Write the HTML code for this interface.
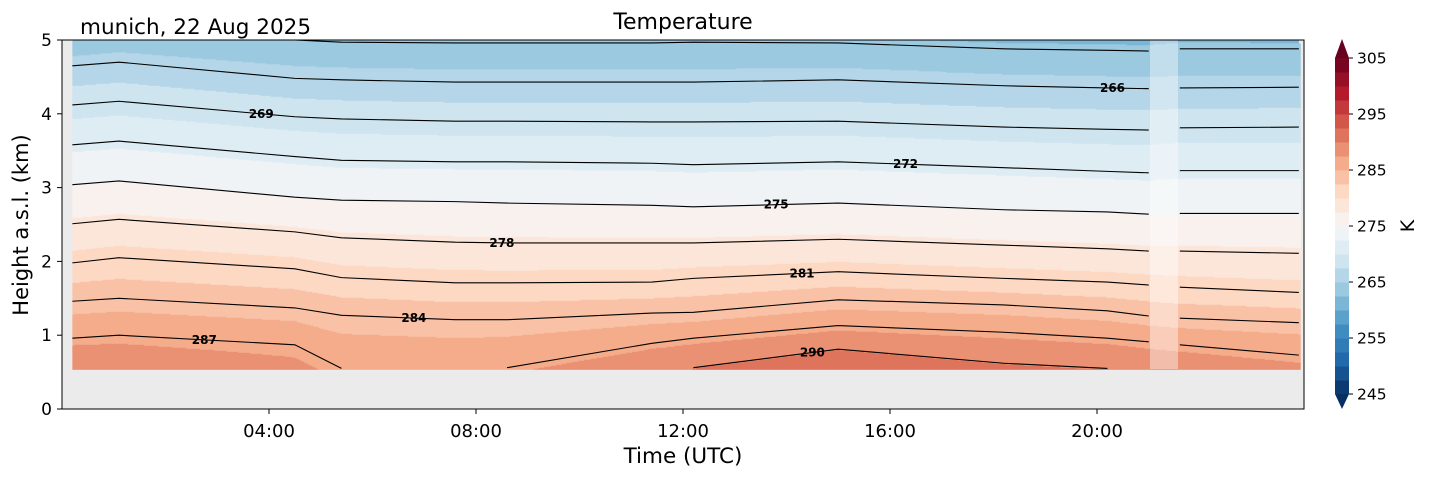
<!DOCTYPE html>
<html><head><meta charset="utf-8"><style>
body{margin:0;background:#fff;width:1429px;height:478px;overflow:hidden;font-family:"Liberation Sans","DejaVu Sans",sans-serif}
svg{display:block}
text{font-family:"DejaVu Sans","Liberation Sans",sans-serif}
</style></head><body>
<svg id="chart" width="1429" height="478" viewBox="0 0 1429 478">
<rect x="0" y="0" width="1429" height="478" fill="#fff"/>
<rect x="62" y="40" width="1242" height="369" fill="#ebebeb"/>
<g id="field"></g>
<rect x="1150" y="40" width="28" height="329" fill="#ffffff" opacity="0.4"/>
<g id="contours"></g>
<g id="clabels"></g>
<rect x="62" y="40" width="1242" height="369" fill="none" stroke="#000" stroke-width="1"/>
<g id="axes"></g>
<text x="683" y="29" font-size="22" text-anchor="middle">Temperature</text>
<text x="80" y="34" font-size="21.5">munich, 22 Aug 2025</text>
<text x="683" y="463" font-size="21.5" text-anchor="middle">Time (UTC)</text>
<text x="0" y="0" font-size="21" text-anchor="middle" transform="translate(28,225) rotate(-90)">Height a.s.l. (km)</text>
<g id="cbar"></g>
<text x="0" y="0" font-size="19" text-anchor="middle" transform="translate(1414,226) rotate(-90)">K</text>
</svg>
<script>
// ---- data ----
const levels = [263,266,269,272,275,278,281,284,287,290];
const knotHours = [0.2,1.1,4.5,5.4,7.6,8.6,11.4,12.2,15.0,18.2,20.2,21.0,21.6,23.9];
// contour heights (km) per knot, per level (null = level absent)
const contourKm = [
 [5.05,4.65,4.12,3.58,3.04,2.51,1.98,1.46,0.96,null],
 [5.12,4.70,4.17,3.63,3.09,2.57,2.05,1.50,1.00,null],
 [5.00,4.48,3.96,3.42,2.87,2.40,1.90,1.37,0.87,null],
 [4.97,4.46,3.93,3.37,2.83,2.32,1.78,1.27,0.55,null],
 [4.96,4.43,3.90,3.35,2.81,2.26,1.71,1.21,null,null],
 [4.96,4.43,3.90,3.35,2.79,2.25,1.71,1.21,0.56,null],
 [4.96,4.43,3.89,3.33,2.76,2.25,1.72,1.30,0.89,null],
 [4.97,4.43,3.89,3.31,2.74,2.25,1.77,1.31,0.96,0.56],
 [4.96,4.46,3.90,3.35,2.79,2.30,1.86,1.48,1.13,0.81],
 [4.88,4.38,3.82,3.27,2.70,2.22,1.77,1.41,1.04,0.62],
 [4.86,4.35,3.79,3.22,2.67,2.17,1.72,1.33,0.96,0.54],
 [4.85,4.34,3.78,3.20,2.64,2.14,1.68,1.26,0.91,null],
 [4.88,4.35,3.81,3.23,2.65,2.14,1.65,1.23,0.87,null],
 [4.88,4.36,3.82,3.23,2.65,2.11,1.58,1.17,0.73,null]
];
const bottomTemp = [289.4,289.2,288.0,287.0,286.8,287.0,289.7,290.0,291.8,290.3,290.0,289.2,289.0,288.0];
const xTickLabels = ["04:00","08:00","12:00","16:00","20:00"];
const xTickHours = [4,8,12,16,20];
const yTicks = [0,1,2,3,4,5];
const cbarTicks = [245,255,265,275,285,295,305];
const labelData = [
 {lev:269,h:3.85},{lev:287,h:2.75},{lev:284,h:6.8},{lev:278,h:8.5},{lev:275,h:13.8},
 {lev:281,h:14.3},{lev:290,h:14.5},{lev:272,h:16.3},{lev:266,h:20.3}
];
const dataStartH=0.2, dataEndH=23.9, bottomKm=0.55, gapStart=21.0, gapEnd=21.5;

// ---- axes functions ----
const X0=62,X1=1304,Y0=409,Y1=40;
const xs=h=>X0+(X1-X0)*h/24;
const ys=z=>Y0-(Y0-Y1)*z/5;
const NS="http://www.w3.org/2000/svg";
function mk(tag,attrs,parent){const e=document.createElementNS(NS,tag);for(const k in attrs)e.setAttribute(k,attrs[k]);parent.appendChild(e);return e;}

const rdbu=["#053061","#2166ac","#4393c3","#92c5de","#d1e5f0","#f7f7f7","#fddbc7","#f4a582","#d6604d","#b2182b","#67001f"];
function hex(c){return [1,3,5].map(i=>parseInt(c.substr(i,2),16));}
function cmap(f){f=Math.max(0,Math.min(1,f));const p=f*10,i=Math.min(9,Math.floor(p)),t=p-i;const a=hex(rdbu[i]),b=hex(rdbu[i+1]);return "rgb("+a.map((v,k)=>Math.round(v+(b[k]-v)*t)).join(",")+")";}
function bandColor(T){let k=Math.floor((T-245)/2.5);k=Math.max(0,Math.min(23,k));return cmap((k+0.5)/24);}

function profileAt(h){
  let i=0;while(i<knotHours.length-2&&h>knotHours[i+1])i++;
  const t=Math.max(0,Math.min(1,(h-knotHours[i])/(knotHours[i+1]-knotHours[i])));
  const pts=[[bottomKm,bottomTemp[i]+(bottomTemp[i+1]-bottomTemp[i])*t]];
  for(let l=levels.length-1;l>=0;l--){const a=contourKm[i][l],b=contourKm[i+1][l];
    if(a!=null&&b!=null){const z=a+(b-a)*t;if(z>pts[pts.length-1][0]+0.01)pts.push([z,levels[l]]);}}
  return pts;
}
function tempAt(pts,z){
  for(let k=0;k<pts.length-1;k++){if(z<=pts[k+1][0]){const f=(z-pts[k][0])/(pts[k+1][0]-pts[k][0]);return pts[k][1]+(pts[k+1][1]-pts[k][1])*f;}}
  const n=pts.length;const g=(pts[n-1][1]-pts[n-2][1])/(pts[n-1][0]-pts[n-2][0]);return pts[n-1][1]+g*(z-pts[n-1][0]);
}

// ---- field ----
const field=document.getElementById('field');
const xa=xs(dataStartH),xb=xs(dataEndH),step=2;
for(let x=xa;x<xb;x+=step){
  const h=(x+step/2-X0)/(X1-X0)*24;const pts=profileAt(h);
  let runStart=ys(bottomKm),runCol=null;
  for(let y=ys(bottomKm);y>Y1-0.5;y-=1){
    const z=(Y0-y)/(Y0-Y1)*5;const c=bandColor(tempAt(pts,z));
    if(c!==runCol){if(runCol){const r=mk('rect',{x:x,y:y+1,width:step+0.4,height:runStart-y-1+0.4,fill:runCol},field);}runCol=c;runStart=y+1;}
  }
  const r=mk('rect',{x:x,y:Y1,width:Math.min(step+0.4,xb-x),height:runStart-Y1,fill:runCol},field);
  
  
}

// ---- contours ----
const cg=document.getElementById('contours');
levels.forEach((lev,l)=>{
  let seg=[];const segs=[];
  knotHours.forEach((h,i)=>{const z=contourKm[i][l];
    if(z==null||z>5){if(seg.length)segs.push(seg);seg=[];return;}
    if(h>gapEnd&&knotHours[i-1]<=gapStart){if(seg.length)segs.push(seg);seg=[];}
    seg.push([xs(h),ys(Math.max(z,bottomKm))]);});
  if(seg.length)segs.push(seg);
  segs.forEach(s=>{if(s.length<2)return;
    const p=mk('polyline',{points:s.map(q=>q.join(',')).join(' '),fill:'none',stroke:'#000','stroke-width':1.1},cg);
    
    });
});
const lg=document.getElementById('clabels');
labelData.forEach(d=>{
  const l=levels.indexOf(d.lev);
  let i=0;while(i<knotHours.length-2&&d.h>knotHours[i+1])i++;
  const a=contourKm[i][l]??bottomKm,b=contourKm[i+1][l]??bottomKm,t=(d.h-knotHours[i])/(knotHours[i+1]-knotHours[i]);
  const z=a+(b-a)*t;
  const tx=mk('text',{x:xs(d.h),y:ys(z)+4,'font-size':12,'font-weight':'bold','text-anchor':'middle'},lg);
  tx.textContent=d.lev;
  
  
});

// ---- axes ----
const ax=document.getElementById('axes');
xTickHours.forEach((h,i)=>{
  const ln=mk('line',{x1:xs(h),x2:xs(h),y1:Y0,y2:Y0+5,stroke:'#000'},ax);
  
  
  const t=mk('text',{x:xs(h),y:Y0+28,'font-size':18,'text-anchor':'middle'},ax);t.textContent=xTickLabels[i];
  
  
});
yTicks.forEach(v=>{
  const ln=mk('line',{x1:X0-5,x2:X0,y1:ys(v),y2:ys(v),stroke:'#000'},ax);
  
  
  const t=mk('text',{x:X0-10,y:ys(v)+6,'font-size':17,'text-anchor':'end'},ax);t.textContent=v;
  
  
});

// ---- colorbar ----
const cb=document.getElementById('cbar');
const CX=1335,CW=14,CT=58,CB=394;
const cy=v=>CB-(CB-CT)*(v-245)/60;
for(let k=0;k<24;k++){
  const r=mk('rect',{x:CX,y:cy(245+(k+1)*2.5),width:CW,height:(CB-CT)/24+0.5,fill:cmap((k+0.5)/24)},cb);
  
  
}
const tu=mk('polygon',{points:`${CX},${CT} ${CX+CW/2},${CT-19} ${CX+CW},${CT}`,fill:cmap(1)},cb);


const td=mk('polygon',{points:`${CX},${CB} ${CX+CW/2},${CB+15} ${CX+CW},${CB}`,fill:cmap(0)},cb);


cbarTicks.forEach(v=>{
  const ln=mk('line',{x1:CX+CW,x2:CX+CW+4,y1:cy(v),y2:cy(v),stroke:'#000'},cb);
  
  
  const t=mk('text',{x:CX+CW+8,y:cy(v)+5.5,'font-size':15.5},cb);t.textContent=v;
  
  
});
</script>
</body></html>
